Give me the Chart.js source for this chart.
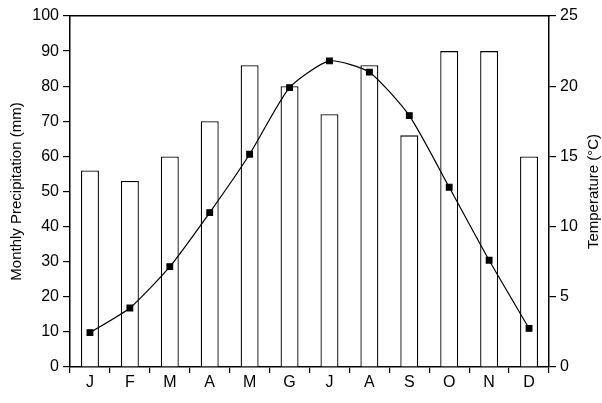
<!DOCTYPE html>
<html><head><meta charset="utf-8">
<script src="https://cdn.jsdelivr.net/npm/chart.js@4/dist/chart.umd.min.js"></script>
<style>html,body{margin:0;padding:0;background:#fff}#wrap{width:602px;height:403px}</style>
</head><body><div id="wrap"><canvas id="c" width="602" height="403"></canvas></div>
<script>
const months = ['J','F','M','A','M','G','J','A','S','O','N','D'];
const precipitation = [56, 53, 60, 70, 86, 80, 72, 86, 66, 90, 90, 60];
const temperature = [2.45, 4.2, 7.15, 11.0, 15.15, 19.9, 21.8, 21.0, 17.9, 12.8, 7.6, 2.75];
const precipTicks = [0,10,20,30,40,50,60,70,80,90,100];
const tempTicks = [0,5,10,15,20,25];
const leftTitle = 'Monthly Precipitation (mm)';
const rightTitle = 'Temperature (°C)';

const FAM = "'Liberation Sans', Arial, sans-serif";
Chart.defaults.font.family = FAM;
Chart.defaults.color = '#000';

const titlePlugin = {
  id:'axisTitles',
  afterDraw(chart){
    const ctx = chart.ctx, a = chart.chartArea;
    const cy = (a.top + a.bottom)/2;
    ctx.save();
    ctx.fillStyle = '#000';
    ctx.font = "15px " + FAM;
    ctx.textAlign = 'center';
    ctx.textBaseline = 'middle';
    ctx.translate(17, cy); ctx.rotate(-Math.PI/2); ctx.fillText(leftTitle, 0, 0);
    ctx.restore();
    ctx.save();
    ctx.fillStyle = '#000';
    ctx.font = "15px " + FAM;
    ctx.textAlign = 'center';
    ctx.textBaseline = 'middle';
    ctx.translate(594, cy); ctx.rotate(-Math.PI/2); ctx.fillText(rightTitle, 0, 0);
    ctx.restore();
  }
};

new Chart(document.getElementById('c'), {
  data: {
    labels: months,
    datasets: [
      {type:'line', label:'Temperature', data: temperature, yAxisID:'yT',
       borderColor:'#000', borderWidth:1.2, backgroundColor:'#000',
       pointStyle:'rect', pointRadius:4, pointHoverRadius:4, tension:0.2, order:0},
      {type:'bar', label:'Precipitation', data: precipitation, yAxisID:'yP',
       backgroundColor:'#fff', borderColor:'#000', borderWidth:1.3,
       barPercentage:0.45, categoryPercentage:1.0, order:1}
    ]
  },
  plugins:[titlePlugin],
  options: {
    responsive:false, animation:false,
    layout:{padding:0},
    plugins:{legend:{display:false}, tooltip:{enabled:false}},
    scales:{
      x:{offset:true,
         afterFit:(ax)=>{ax.height = 36;},
         grid:{offset:true, drawOnChartArea:false, color:'#000', tickLength:6, lineWidth:1.2},
         border:{color:'#000', width:1.5},
         ticks:{font:{size:16}, color:'#000', padding:0, maxRotation:0}},
      xTop:{position:'top', labels: months, offset:true,
         afterFit:(ax)=>{ax.height = 16;},
         grid:{display:false}, border:{color:'#000', width:1.5},
         ticks:{display:false}},
      yP:{position:'left', min:0, max:100,
         afterFit:(ax)=>{ax.width = 70;},
         afterBuildTicks:(ax)=>{ax.ticks = precipTicks.map(v=>({value:v}));},
         grid:{drawOnChartArea:false, color:'#000', tickLength:7, lineWidth:1.2},
         border:{color:'#000', width:1.5},
         ticks:{font:{size:16}, color:'#000', padding:4}},
      yT:{position:'right', min:0, max:25,
         afterFit:(ax)=>{ax.width = 53;},
         afterBuildTicks:(ax)=>{ax.ticks = tempTicks.map(v=>({value:v}));},
         grid:{drawOnChartArea:false, color:'#000', tickLength:7, lineWidth:1.2},
         border:{color:'#000', width:1.5},
         ticks:{font:{size:16}, color:'#000', padding:4}}
    }
  }
});
</script></body></html>
